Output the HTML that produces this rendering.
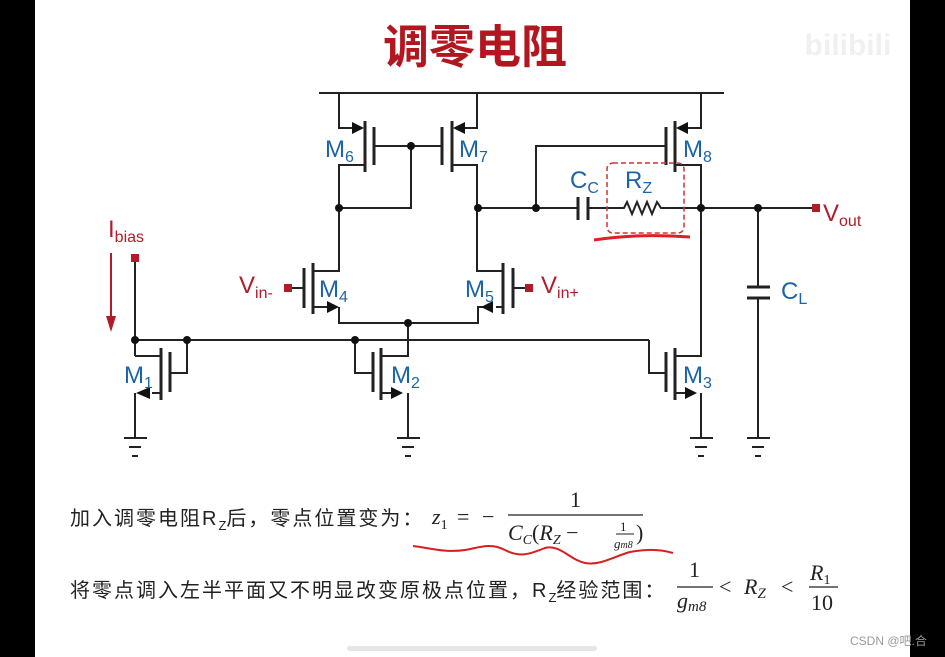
<!DOCTYPE html>
<html><head><meta charset="utf-8"><style>
html,body{margin:0;padding:0;background:#000;}
body{width:945px;height:657px;overflow:hidden;position:relative;}
svg{position:absolute;left:0;top:0;}
</style></head><body>
<svg width="945" height="657" viewBox="0 0 945 657" xmlns="http://www.w3.org/2000/svg">
<rect x="0" y="0" width="945" height="657" fill="#000"/>
<rect x="35" y="0" width="875" height="657" fill="#fff"/>
<rect x="347" y="646" width="250" height="5" rx="2.5" fill="#e6e6e6"/>
<text x="475" y="63" text-anchor="middle" font-family="Liberation Sans,'Noto Sans CJK SC',sans-serif" font-size="46" font-weight="bold" fill="#b3161e">调零电阻</text>
<text x="848" y="55" text-anchor="middle" font-family="Liberation Sans,sans-serif" font-size="30" font-weight="bold" fill="#f0f0f0">bilibili</text>

<g stroke="#222" stroke-width="2" fill="none">
<line x1="319" y1="93" x2="724" y2="93"/>
<polyline points="339,93 339,128 358,128"/>
<line x1="365" y1="121" x2="365" y2="172" stroke-width="3"/>
<line x1="374" y1="127" x2="374" y2="165" stroke-width="3"/>
<polyline points="365,165 339,165 339,208 411,208 411,146"/>
<line x1="374" y1="146" x2="442" y2="146"/>
<line x1="442" y1="127" x2="442" y2="165" stroke-width="3"/>
<line x1="452" y1="121" x2="452" y2="172" stroke-width="3"/>
<polyline points="459,128 477,128 477,93"/>
<polyline points="452,165 477,165 477,271 503,271"/>
<polyline points="477,208 578,208"/>
<line x1="578" y1="197" x2="578" y2="220" stroke-width="3"/>
<line x1="588" y1="197" x2="588" y2="220" stroke-width="3"/>
<polyline points="588,208 624,208 627,202 632,214 637,202 642,214 647,202 652,214 657,202 661,208 815,208"/>
<polyline points="536,208 536,146 666,146"/>
<line x1="666" y1="127" x2="666" y2="165" stroke-width="3"/>
<line x1="675" y1="121" x2="675" y2="172" stroke-width="3"/>
<polyline points="682,128 701,128 701,93"/>
<polyline points="675,165 701,165 701,356 675,356"/>
<line x1="758" y1="208" x2="758" y2="287"/>
<line x1="747" y1="287" x2="770" y2="287" stroke-width="3"/>
<line x1="747" y1="298" x2="770" y2="298" stroke-width="3"/>
<line x1="758" y1="298" x2="758" y2="438"/>
<polyline points="339,208 339,271 313,271"/>
<line x1="313" y1="263" x2="313" y2="314" stroke-width="3"/>
<line x1="304" y1="268" x2="304" y2="308" stroke-width="3"/>
<line x1="289" y1="288" x2="304" y2="288"/>
<polyline points="313,307 330,307"/>
<polyline points="339,307 339,323 478,323 478,307 487,307"/>
<line x1="503" y1="263" x2="503" y2="314" stroke-width="3"/>
<line x1="513" y1="268" x2="513" y2="308" stroke-width="3"/>
<line x1="513" y1="288" x2="529" y2="288"/>
<line x1="496" y1="307" x2="503" y2="307"/>
<line x1="135" y1="258" x2="135" y2="356"/>
<line x1="135" y1="340" x2="649" y2="340"/>
<polyline points="649,340 649,373 666,373"/>
<line x1="135" y1="356" x2="161" y2="356"/>
<line x1="161" y1="348" x2="161" y2="400" stroke-width="3"/>
<line x1="170" y1="352" x2="170" y2="392" stroke-width="3"/>
<polyline points="170,373 187,373 187,340"/>
<polyline points="161,393 152,393"/>
<line x1="135" y1="393" x2="135" y2="438"/>
<polyline points="355,340 355,373 373,373"/>
<line x1="373" y1="352" x2="373" y2="392" stroke-width="3"/>
<line x1="381" y1="348" x2="381" y2="400" stroke-width="3"/>
<polyline points="381,356 408,356 408,323"/>
<polyline points="381,393 392,393"/>
<line x1="408" y1="393" x2="408" y2="438"/>
<line x1="666" y1="352" x2="666" y2="392" stroke-width="3"/>
<line x1="675" y1="348" x2="675" y2="400" stroke-width="3"/>
<polyline points="675,393 686,393"/>
<line x1="701" y1="393" x2="701" y2="438"/>
</g>
<g fill="#111">
<polygon points="364,128 352,122 352,134"/>
<polygon points="453,128 465,122 465,134"/>
<polygon points="676,128 688,122 688,134"/>
<polygon points="339,307 327,301 327,313"/>
<polygon points="481,307 493,301 493,313"/>
<polygon points="136,393 150,387 150,399"/>
<polygon points="403,393 391,387 391,399"/>
<polygon points="697,393 685,387 685,399"/>
</g>
<g fill="#111">
<circle cx="411" cy="146" r="4"/><circle cx="339" cy="208" r="4"/><circle cx="478" cy="208" r="4"/>
<circle cx="536" cy="208" r="4"/><circle cx="701" cy="208" r="4"/><circle cx="758" cy="208" r="4"/>
<circle cx="408" cy="323" r="4"/><circle cx="135" cy="340" r="4"/><circle cx="187" cy="340" r="4"/><circle cx="355" cy="340" r="4"/>
</g>
<g stroke="#222" stroke-width="2">
<line x1="124" y1="438" x2="147" y2="438"/><line x1="129" y1="447" x2="141" y2="447"/><line x1="132" y1="456" x2="138" y2="456"/>
<line x1="397" y1="438" x2="420" y2="438"/><line x1="402" y1="447" x2="414" y2="447"/><line x1="405" y1="456" x2="411" y2="456"/>
<line x1="690" y1="438" x2="713" y2="438"/><line x1="695" y1="447" x2="707" y2="447"/><line x1="698" y1="456" x2="704" y2="456"/>
<line x1="747" y1="438" x2="770" y2="438"/><line x1="752" y1="447" x2="764" y2="447"/><line x1="755" y1="456" x2="761" y2="456"/>
</g>
<g fill="#b01c2a">
<rect x="131" y="254" width="8" height="8"/><rect x="284" y="284" width="8" height="8"/><rect x="525" y="284" width="8" height="8"/><rect x="812" y="204" width="8" height="8"/>
</g>
<line x1="111" y1="253" x2="111" y2="320" stroke="#b01c2a" stroke-width="2"/>
<polygon points="111,332 106,316 116,316" fill="#b01c2a"/>
<rect x="607" y="163" width="77" height="70" rx="6" fill="none" stroke="#d03030" stroke-width="1.5" stroke-dasharray="5,3"/>
<path d="M594,240 C620,236 650,234 690,237" stroke="#e02020" stroke-width="3" fill="none"/>
<g font-family="Liberation Sans,sans-serif" fill="#1c64a8" font-size="24">
<text x="325" y="157">M<tspan font-size="16" dy="5">6</tspan></text>
<text x="459" y="157">M<tspan font-size="16" dy="5">7</tspan></text>
<text x="683" y="157">M<tspan font-size="16" dy="5">8</tspan></text>
<text x="570" y="188">C<tspan font-size="16" dy="5">C</tspan></text>
<text x="625" y="188">R<tspan font-size="16" dy="5">Z</tspan></text>
<text x="781" y="299">C<tspan font-size="16" dy="5">L</tspan></text>
<text x="319" y="297">M<tspan font-size="16" dy="5">4</tspan></text>
<text x="465" y="297">M<tspan font-size="16" dy="5">5</tspan></text>
<text x="124" y="383">M<tspan font-size="16" dy="5">1</tspan></text>
<text x="391" y="383">M<tspan font-size="16" dy="5">2</tspan></text>
<text x="683" y="383">M<tspan font-size="16" dy="5">3</tspan></text>
</g>
<g font-family="Liberation Sans,sans-serif" fill="#b01c2a" font-size="24">
<text x="823" y="221">V<tspan font-size="16" dy="5">out</tspan></text>
<text x="239" y="293">V<tspan font-size="16" dy="5">in-</tspan></text>
<text x="541" y="293">V<tspan font-size="16" dy="5">in+</tspan></text>
<text x="108" y="237">I<tspan font-size="16" dy="5">bias</tspan></text>
</g>
<g font-family="Liberation Sans,'Noto Sans CJK SC',sans-serif" fill="#222" font-size="20" letter-spacing="2">
<text x="70" y="525">加入调零电阻R<tspan font-size="13" dy="5" letter-spacing="0">Z</tspan><tspan dy="-5">后，零点位置变为：</tspan></text>
<text x="70" y="597">将零点调入左半平面又不明显改变原极点位置，R<tspan font-size="13" dy="5" letter-spacing="0">Z</tspan><tspan dy="-5">经验范围：</tspan></text>
</g>
<g font-family="Liberation Serif,serif" fill="#222" font-size="22">
<text x="432" y="524" font-style="italic">z<tspan font-size="14" dy="5" font-style="normal">1</tspan></text>
<text x="457" y="524">=</text>
<text x="482" y="524">−</text>
<text x="570" y="507">1</text>
<line x1="508" y1="515" x2="643" y2="515" stroke="#222" stroke-width="1.2"/>
<text x="508" y="540" font-style="italic">C<tspan font-size="14" dy="4">C</tspan><tspan dy="-4" font-style="normal">(</tspan>R<tspan font-size="14" dy="4">Z</tspan><tspan dy="-4" font-style="normal"> − </tspan></text>
<text x="620" y="531" font-size="13">1</text>
<line x1="616" y1="534" x2="634" y2="534" stroke="#222" stroke-width="1"/>
<text x="614" y="548" font-size="13" font-style="italic">g<tspan font-size="10">m8</tspan></text>
<text x="636" y="540">)</text>
<text x="689" y="577">1</text>
<line x1="677" y1="587" x2="713" y2="587" stroke="#222" stroke-width="1.2"/>
<text x="677" y="608" font-style="italic">g<tspan font-size="15" dy="3">m8</tspan></text>
<text x="719" y="594">&lt;</text>
<text x="744" y="594" font-style="italic">R<tspan font-size="15" dy="4">Z</tspan></text>
<text x="781" y="594">&lt;</text>
<text x="810" y="580" font-style="italic">R<tspan font-size="14" dy="4" font-style="normal">1</tspan></text>
<line x1="809" y1="587" x2="838" y2="587" stroke="#222" stroke-width="1.2"/>
<text x="811" y="610">10</text>
</g>
<path d="M413,546 C430,548 445,553 465,550 C478,548 490,542 505,550 C520,558 530,554 545,548 C560,544 570,560 585,563 C600,566 615,556 630,552 C645,549 660,549 673,553" stroke="#d81e1e" stroke-width="2" fill="none"/>
<text x="850" y="645" font-family="Liberation Sans,'Noto Sans CJK SC',sans-serif" font-size="12" fill="#999">CSDN @吧.合</text>
</svg>
</body></html>
